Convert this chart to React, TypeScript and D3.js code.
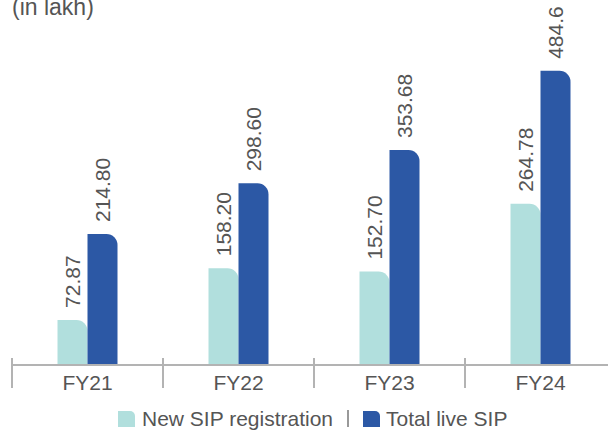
import React from "react";
import * as d3 from "d3";

const categories = ["FY21", "FY22", "FY23", "FY24"];
const newSip = [72.87, 158.2, 152.7, 264.78];
const totalSip = [214.8, 298.6, 353.68, 484.6];
const newLabels = ["72.87", "158.20", "152.70", "264.78"];
const totalLabels = ["214.80", "298.60", "353.68", "484.6"];
const seriesNames = ["New SIP registration", "Total live SIP"];

const W = 608;
const H = 432;
const LIGHT = "#b1dfdd";
const DARK = "#2c58a5";
const TEXT = "#555555";
const AXIS = "#b3b3b3";
const FONT = "'Liberation Sans', Arial, Helvetica, sans-serif";

function topRightRounded(x: number, y: number, w: number, h: number, r: number) {
  const rr = Math.min(r, w, h);
  return `M${x},${y + h}V${y}H${x + w - rr}A${rr},${rr} 0 0 1 ${x + w},${y + rr}V${y + h}Z`;
}

export default function App() {
  const baseY = 364;
  const x = d3.scaleBand<string>().domain(categories).range([12, 616]).padding(0);
  const y = d3.scaleLinear().domain([0, 500]).range([baseY, baseY - 302.5]);
  const barW = 30;
  const r = 11;
  const fs = 21;

  const bars: JSX.Element[] = [];
  categories.forEach((c, i) => {
    const cx = (x(c) as number) + x.bandwidth() / 2;
    const items = [
      { v: newSip[i], lab: newLabels[i], x0: cx - barW, color: LIGHT },
      { v: totalSip[i], lab: totalLabels[i], x0: cx, color: DARK },
    ];
    items.forEach((it, j) => {
      const top = y(it.v);
      bars.push(
        <path key={`b${i}-${j}`} d={topRightRounded(it.x0, top, barW, baseY - top, r)} fill={it.color} />
      );
      const tx = it.x0 + barW / 2 + fs * 0.36;
      const ty = top - 12;
      bars.push(
        <text
          key={`t${i}-${j}`}
          transform={`translate(${tx},${ty}) rotate(-90)`}
          fontSize={fs}
          fill={TEXT}
          fontFamily={FONT}
          textAnchor="start"
        >
          {it.lab}
        </text>
      );
    });
  });

  const ticks = categories.map((c) => x(c) as number);

  return (
    <svg width={W} height={H} style={{ position: "absolute", left: 0, top: 0, background: "#fff" }}>
      <text x={12} y={15} fontSize={23} fill={TEXT} fontFamily={FONT}>
        (in lakh)
      </text>
      {bars}
      <line x1={12} x2={W} y1={baseY + 1} y2={baseY + 1} stroke={AXIS} strokeWidth={2} />
      {ticks.map((t, i) => (
        <line key={`k${i}`} x1={t} x2={t} y1={358} y2={388} stroke={AXIS} strokeWidth={2} />
      ))}
      {categories.map((c) => (
        <text
          key={c}
          x={(x(c) as number) + x.bandwidth() / 2}
          y={390}
          fontSize={fs}
          fill={TEXT}
          fontFamily={FONT}
          textAnchor="middle"
        >
          {c}
        </text>
      ))}
      <g>
        <path d={topRightRounded(118, 411, 17, 16, 5)} fill={LIGHT} />
        <text x={142} y={426} fontSize={fs} fill={TEXT} fontFamily={FONT}>
          {seriesNames[0]}
        </text>
        <line x1={348} x2={348} y1={410} y2={427} stroke={TEXT} strokeWidth={1.2} />
        <path d={topRightRounded(363, 411, 17, 16, 5)} fill={DARK} />
        <text x={386} y={426} fontSize={fs} fill={TEXT} fontFamily={FONT}>
          {seriesNames[1]}
        </text>
      </g>
    </svg>
  );
}
